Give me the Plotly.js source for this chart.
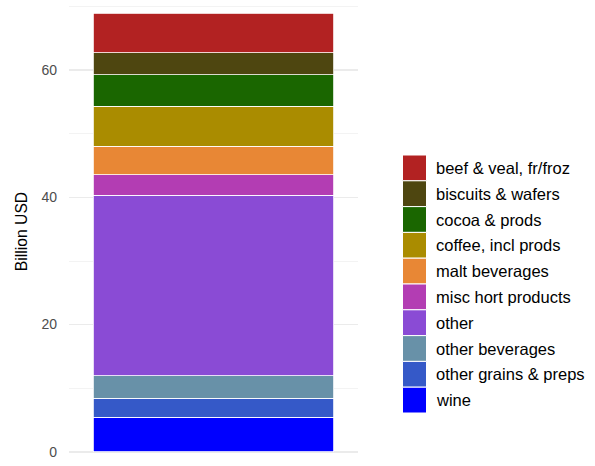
<!DOCTYPE html>
<html>
<head>
<meta charset="utf-8">
<script src="https://cdn.plot.ly/plotly-3.0.1.min.js"></script>
<style>
  html, body { margin: 0; padding: 0; background: #ffffff; }
  #chart { width: 595px; height: 466px; }
</style>
</head>
<body>
<div id="chart"></div>
<script>
// Stack order: bottom to top
const categories = ['wine', 'other grains & preps', 'other beverages', 'other', 'misc hort products',
                    'malt beverages', 'coffee, incl prods', 'cocoa & prods', 'biscuits & wafers', 'beef & veal, fr/froz'];
const values = [5.41, 2.99, 3.51, 28.47, 3.15, 4.56, 6.29, 4.88, 3.51, 6.19];
const colors = ['#0000FF', '#3559C8', '#6891A8', '#8A4BD5', '#B33DB3',
                '#E88735', '#AA8C00', '#1A6600', '#4E4610', '#B22222'];
const yTickVals = [0, 20, 40, 60];
const yTickText = ['0', '20', '40', '60'];
const yTitle = 'Billion USD';

const FONT = 'Liberation Sans, Arial, Helvetica, sans-serif';

const traces = categories.map((c, i) => ({
  type: 'bar',
  name: c,
  x: [0],
  y: [values[i]],
  width: 1.0,
  marker: { color: colors[i], line: { color: '#FFFFFF', width: 0.8 } },
  showlegend: false,
  hoverinfo: 'name+y'
}));

// Plot area pixel geometry (for custom legend placement)
const mL = 69, mR = 237, mT = 5, mB = 8;
const W = 595, H = 466;
const pw = W - mL - mR, ph = H - mT - mB;
const px2x = X => (X - mL) / pw;
const px2y = Y => (H - mB - Y) / ph;

const legendTop = 155, itemH = 25.8, swL = 402.5, swR = 426.5, textX = 434;
const shapes = [];
const annotations = [];
const legendOrder = categories.map((c, i) => i).reverse();
legendOrder.forEach((idx, k) => {
  const top = legendTop + k * itemH;
  shapes.push({
    type: 'rect', xref: 'paper', yref: 'paper',
    x0: px2x(swL), x1: px2x(swR), y0: px2y(top + itemH), y1: px2y(top),
    fillcolor: colors[idx], line: { color: '#FFFFFF', width: 1 }
  });
  annotations.push({
    xref: 'paper', yref: 'paper', x: px2x(textX), y: px2y(top + itemH / 2),
    xanchor: 'left', yanchor: 'middle', showarrow: false,
    text: categories[idx], font: { family: FONT, size: 16.5, color: '#000000' }
  });
});

const layout = {
  width: W, height: H,
  margin: { l: mL, r: mR, t: mT, b: mB, pad: 0 },
  paper_bgcolor: '#FFFFFF', plot_bgcolor: '#FFFFFF',
  barmode: 'stack',
  bargap: 0,
  showlegend: false,
  font: { family: FONT },
  xaxis: {
    range: [-0.6, 0.6], showgrid: false, zeroline: false,
    showticklabels: false, ticks: '', showline: false, fixedrange: true
  },
  yaxis: {
    range: [-0.99, 70.27], autorange: false,
    tickvals: yTickVals, ticktext: yTickText,
    showgrid: true, gridcolor: '#EBEBEB', gridwidth: 1.6,
    zeroline: false, showline: false, ticks: '',
    ticklabelstandoff: 11,
    tickfont: { family: FONT, size: 14, color: '#4D4D4D' },
    minor: { tickvals: [10, 30, 50, 70], showgrid: true, gridcolor: '#F2F2F2', gridwidth: 0.9, ticks: '' },
    title: { text: yTitle, font: { family: FONT, size: 15.7, color: '#000000' }, standoff: 9 },
    automargin: false
  },
  shapes: shapes,
  annotations: annotations
};

Plotly.newPlot('chart', traces, layout, { displayModeBar: false, staticPlot: true });
</script>
</body>
</html>
